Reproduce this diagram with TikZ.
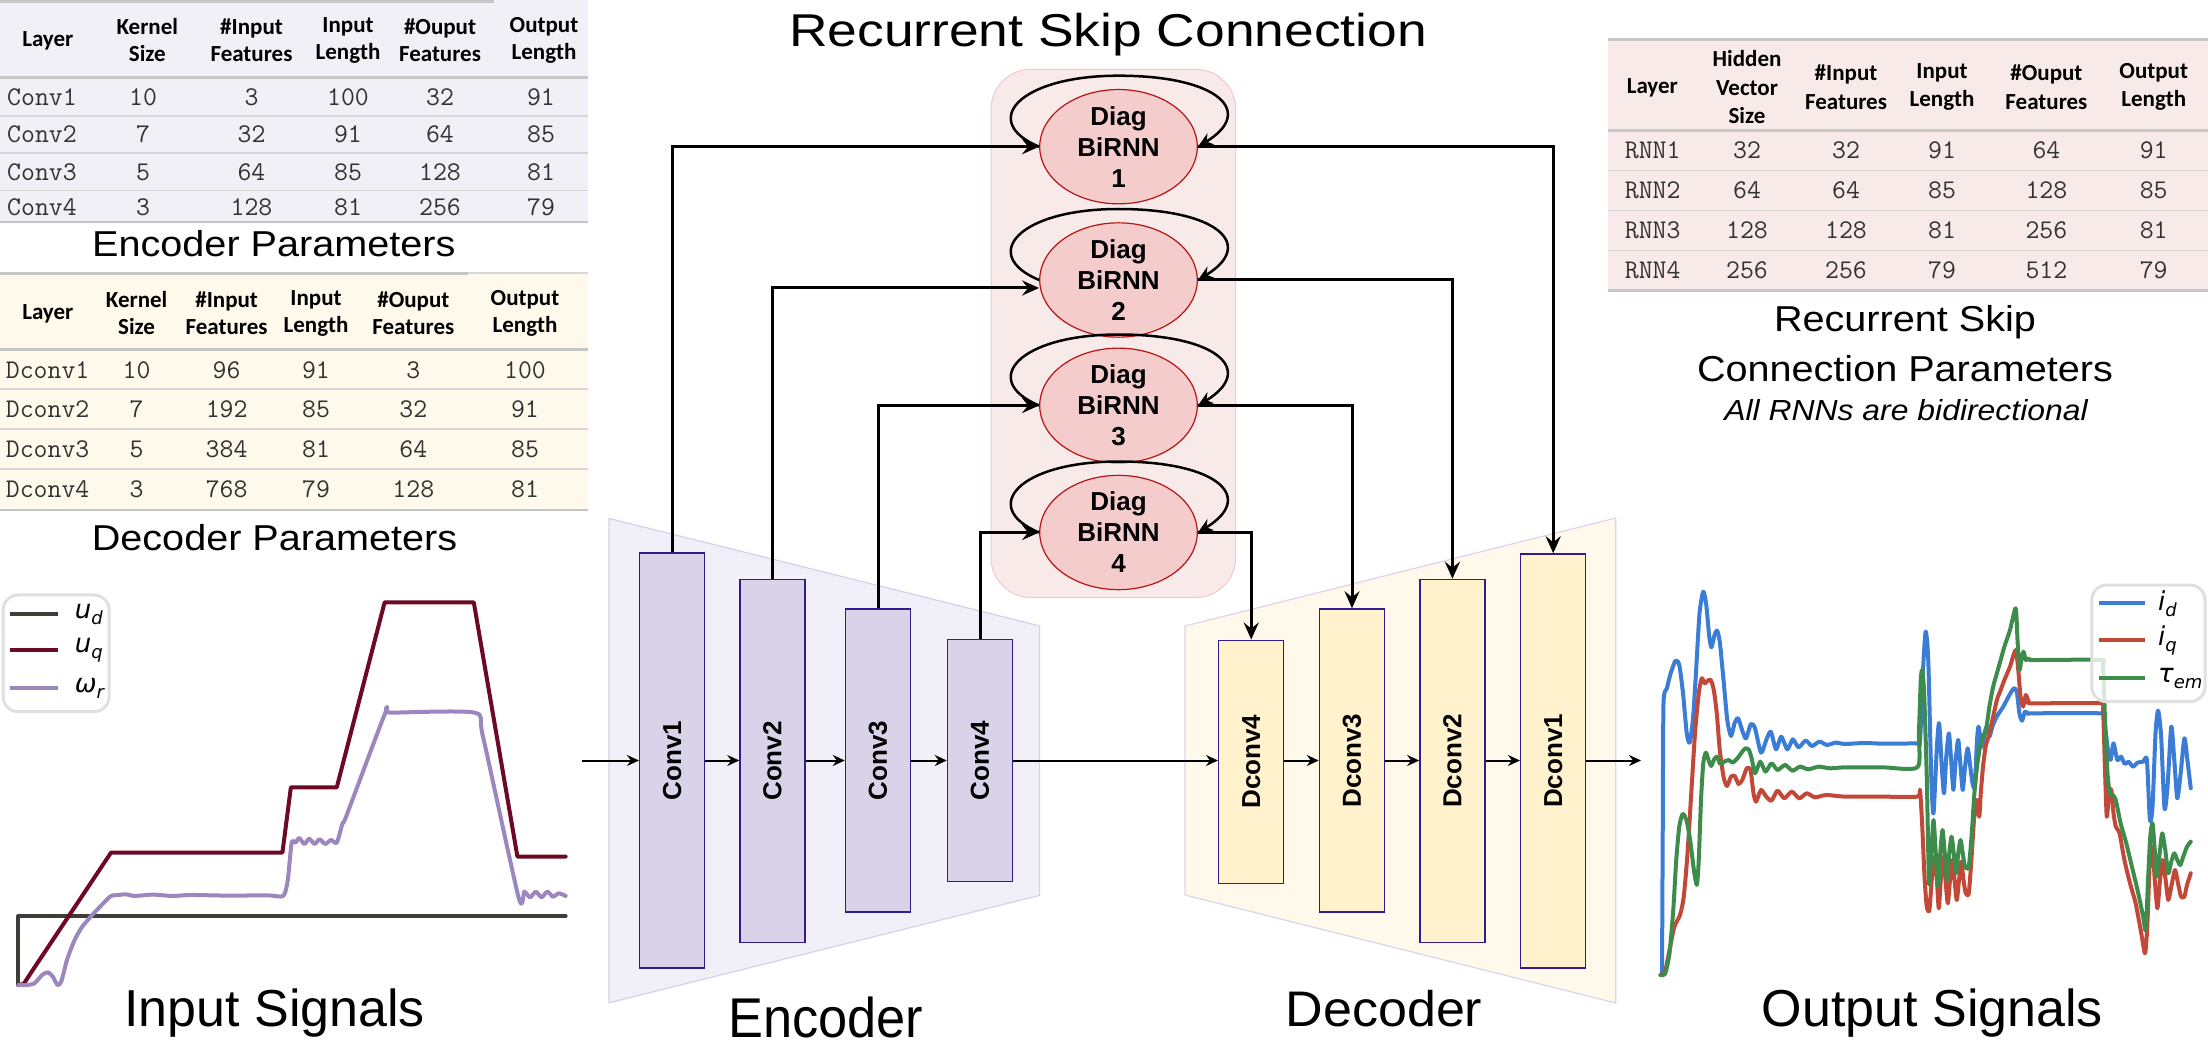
\documentclass[tikz,border=0pt]{standalone}
\usepackage{fontspec}
\usepackage{graphicx}
\setmainfont{Liberation Sans}
\newfontfamily\hdrfont{Carlito}
\newfontfamily\djv{DejaVu Sans}
\usetikzlibrary{arrows.meta,shapes.geometric,calc}
\newcommand\lgsub[1]{\raisebox{-6pt}{\fontsize{18}{18}\selectfont #1}}

\definecolor{encfill}{RGB}{241,239,248}
\definecolor{encedge}{RGB}{214,208,234}
\definecolor{convfill}{RGB}{218,210,232}
\definecolor{boxline}{RGB}{48,28,140}
\definecolor{decfill}{RGB}{255,249,236}
\definecolor{decedge}{RGB}{220,212,236}
\definecolor{dconvfill}{RGB}{255,242,204}
\definecolor{rnnbg}{RGB}{249,234,234}
\definecolor{rnnbgedge}{RGB}{244,200,200}
\definecolor{ellfill}{RGB}{244,204,204}
\definecolor{elledge}{RGB}{184,20,20}
\definecolor{tabenc}{RGB}{241,240,247}
\definecolor{tabdec}{RGB}{254,249,235}
\definecolor{tabrnn}{RGB}{249,234,234}
\definecolor{rulethick}{RGB}{198,198,198}
\definecolor{rulethin}{RGB}{214,214,214}
\definecolor{datagray}{RGB}{50,50,50}
\definecolor{udcol}{RGB}{62,62,56}
\definecolor{uqcol}{RGB}{108,10,38}
\definecolor{wrcol}{RGB}{155,135,190}
\definecolor{idcol}{RGB}{58,124,214}
\definecolor{iqcol}{RGB}{196,72,56}
\definecolor{temcol}{RGB}{62,140,76}

\tikzset{
  convbox/.style={draw=boxline, line width=1.5pt, fill=convfill, minimum width=65pt, inner sep=0pt,
    font=\fontsize{26}{30}\selectfont\bfseries},
  dconvbox/.style={convbox, fill=dconvfill},
  rnnell/.style={ellipse, draw=elledge, line width=1.2pt, fill=ellfill, minimum width=157.6pt,
    minimum height=106pt, inner sep=0pt, align=center, font=\fontsize{26}{31}\selectfont\bfseries},
  thinarrow/.style={line width=2pt, -{Stealth[length=12pt,width=11pt,inset=4pt]}},
  skipline/.style={line width=3pt, -{Stealth[length=17pt,width=15pt,inset=6pt]}},
  loopline/.style={line width=2.5pt, -{Stealth[length=15pt,width=13pt,inset=5pt]}},
  hdr/.style={align=center, inner sep=0pt, font=\hdrfont\bfseries\fontsize{23}{27}\selectfont},
  hdrr/.style={align=center, inner sep=0pt, font=\hdrfont\bfseries\fontsize{23}{28.5}\selectfont},
  datatxt/.style={inner sep=0pt, text=datagray, font=\ttfamily\fontsize{27}{29}\selectfont},
  thickrule/.style={draw=rulethick, line width=3pt},
  thinrule/.style={draw=rulethin, line width=1.5pt},
  sigline/.style={line width=4pt, line cap=round, line join=round},
  ttl/.style={anchor=base, inner sep=0pt},
}

\begin{document}
\begin{tikzpicture}[x=1pt,y=-1pt]
\useasboundingbox (0,0) rectangle (2208,1056);
\fill[white] (0,0) rectangle (2208,1056);

%================ Encoder table
\fill[tabenc] (0,0) rectangle (588,221.7);
\draw[thickrule] (0,1.5) -- (494,1.5);
\draw[thickrule] (0,78) -- (588,78);
\foreach \yy in {116,153,190.5} \draw[thinrule] (0,\yy) -- (588,\yy);
\draw[draw=rulethick, line width=2pt] (0,221.7) -- (588,221.7);
\node[hdr] (eh0) at (47.8,41) {Layer};
\node[hdr] (eh1) at (147.3,40) {Kernel\\Size};
\node[hdr] (eh2) at (251.5,40) {\#Input\\Features};
\node[hdr] (eh3) at (348,40) {Input\\Length};
\node[hdr] (eh4) at (440,40) {\#Ouput\\Features};
\node[hdr] (eh5) at (544,40) {Output\\Length};
\foreach \nm/\yy/\a/\b/\c/\d/\e [count=\r] in {Conv1/97/10/3/100/32/91, Conv2/134.5/7/32/91/64/85, Conv3/172/5/64/85/128/81, Conv4/207/3/128/81/256/79} {
  \node[datatxt, anchor=west] (er\r a) at (7,\yy) {\nm};
  \node[datatxt] (er\r b) at (143,\yy) {\a};
  \node[datatxt] (er\r c) at (251.5,\yy) {\b};
  \node[datatxt] (er\r d) at (348,\yy) {\c};
  \node[datatxt] (er\r e) at (440,\yy) {\d};
  \node[datatxt] (er\r f) at (541,\yy) {\e};
}
\node[ttl] (enctitle) at (273.8,256.7) {\fontsize{36}{40}\selectfont\scalebox{1.1}[1]{Encoder Parameters}};

%================ Decoder table
\fill[tabdec] (0,273) rectangle (588,510);
\draw[thickrule] (0,273.5) -- (468,273.5);
\draw[thinrule] (468,273) -- (588,273);
\draw[thickrule] (0,350) -- (588,350);
\foreach \yy in {389,429,469} \draw[thinrule] (0,\yy) -- (588,\yy);
\draw[draw=rulethick, line width=2pt] (0,510) -- (588,510);
\node[hdr] (dh0) at (47.8,314) {Layer};
\node[hdr] (dh1) at (136.6,313) {Kernel\\Size};
\node[hdr] (dh2) at (226.6,313) {\#Input\\Features};
\node[hdr] (dh3) at (316,313) {Input\\Length};
\node[hdr] (dh4) at (413.3,313) {\#Ouput\\Features};
\node[hdr] (dh5) at (525,313) {Output\\Length};
\foreach \nm/\yy/\a/\b/\c/\d/\e [count=\r] in {Dconv1/370/10/96/91/3/100, Dconv2/409/7/192/85/32/91, Dconv3/449/5/384/81/64/85, Dconv4/489.5/3/768/79/128/81} {
  \node[datatxt, anchor=west] (dr\r a) at (5.7,\yy) {\nm};
  \node[datatxt] (dr\r b) at (136.6,\yy) {\a};
  \node[datatxt] (dr\r c) at (226.6,\yy) {\b};
  \node[datatxt] (dr\r d) at (316,\yy) {\c};
  \node[datatxt] (dr\r e) at (413.3,\yy) {\d};
  \node[datatxt] (dr\r f) at (525,\yy) {\e};
}
\node[ttl] (dectitle) at (274.5,550) {\fontsize{36}{40}\selectfont\scalebox{1.1}[1]{Decoder Parameters}};

%================ RNN table
\fill[tabrnn] (1607.7,40) rectangle (2208,290.7);
\draw[thickrule] (1607.7,40) -- (2208,40);
\draw[thickrule] (1607.7,130.7) -- (2208,130.7);
\foreach \yy in {170.7,210.7,250.7} \draw[thinrule] (1607.7,\yy) -- (2208,\yy);
\draw[thickrule] (1607.7,290.7) -- (2208,290.7);
\node[hdrr] (rh0) at (1652.3,88) {Layer};
\node[hdrr] (rh1) at (1747,87.3) {Hidden\\Vector\\Size};
\node[hdrr] (rh2) at (1846,87) {\#Input\\Features};
\node[hdrr] (rh3) at (1942,87) {Input\\Length};
\node[hdrr] (rh4) at (2046.4,87) {\#Ouput\\Features};
\node[hdrr] (rh5) at (2153.7,87) {Output\\Length};
\foreach \nm/\yy/\a/\b/\c/\d/\e [count=\r] in {RNN1/150.7/32/32/91/64/91, RNN2/190.7/64/64/85/128/85, RNN3/230.7/128/128/81/256/81, RNN4/270.7/256/256/79/512/79} {
  \node[datatxt, anchor=west] (rr\r a) at (1624.7,\yy) {\nm};
  \node[datatxt] (rr\r b) at (1747,\yy) {\a};
  \node[datatxt] (rr\r c) at (1846,\yy) {\b};
  \node[datatxt] (rr\r d) at (1942,\yy) {\c};
  \node[datatxt] (rr\r e) at (2046.4,\yy) {\d};
  \node[datatxt] (rr\r f) at (2153.7,\yy) {\e};
}
\node[ttl] (rnntitle1) at (1905,331.7) {\fontsize{36}{40}\selectfont\scalebox{1.1}[1]{Recurrent Skip}};
\node[ttl] (rnntitle2) at (1905,381.7) {\fontsize{36}{40}\selectfont\scalebox{1.1}[1]{Connection Parameters}};
\node[ttl] (rnnnote) at (1906,420) {\fontsize{29}{32}\selectfont\itshape\scalebox{1.1}[1]{All RNNs are bidirectional}};

%================ Main title and labels
\node[ttl] (maintitle) at (1108,46.7) {\fontsize{46}{52}\selectfont\scalebox{1.16}[1]{Recurrent Skip Connection}};
\node[ttl] (inlabel) at (274.6,1026.7) {\fontsize{52}{58}\selectfont Input Signals};
\node[ttl] (enclabel) at (825.6,1037) {\fontsize{56}{62}\selectfont\scalebox{0.935}[1]{Encoder}};
\node[ttl] (declabel) at (1384,1026.6) {\fontsize{50}{56}\selectfont\scalebox{1.04}[1]{Decoder}};
\node[ttl] (outlabel) at (1932.5,1026.7) {\fontsize{52}{58}\selectfont Output Signals};

%================ Encoder / decoder trapezoids
\draw[draw=encedge, fill=encfill, line width=1.2pt] (609,518.4) -- (1039.6,625.9) -- (1039.6,895.4) -- (609,1002.8) -- cycle;
\draw[draw=decedge, fill=decfill, line width=1.2pt] (1185,626) -- (1615.7,518) -- (1615.7,1003) -- (1185,895) -- cycle;

%================ RNN container
\draw[draw=rnnbgedge, fill=rnnbg, line width=1pt, rounded corners=40pt] (991,69.3) rectangle (1235.7,597.5);

%================ Conv boxes
\node[convbox, minimum height=415pt] (c1) at (672.2,760.5) {\rotatebox{90}{Conv1}};
\node[convbox, minimum height=363pt] (c2) at (772.5,761) {\rotatebox{90}{Conv2}};
\node[convbox, minimum height=303pt] (c3) at (878,760.7) {\rotatebox{90}{Conv3}};
\node[convbox, minimum height=242pt] (c4) at (980,760.3) {\rotatebox{90}{Conv4}};
\node[dconvbox, minimum height=243pt] (d4) at (1251.2,761.8) {\rotatebox{90}{Dconv4}};
\node[dconvbox, minimum height=303pt] (d3) at (1352,760.5) {\rotatebox{90}{Dconv3}};
\node[dconvbox, minimum height=363pt] (d2) at (1452.4,761) {\rotatebox{90}{Dconv2}};
\node[dconvbox, minimum height=414pt] (d1) at (1553.2,761) {\rotatebox{90}{Dconv1}};

%================ RNN ellipses
\node[rnnell] (e1) at (1118.5,146.7) {Diag\\BiRNN\\1};
\node[rnnell] (e2) at (1118.5,280) {Diag\\BiRNN\\2};
\node[rnnell] (e3) at (1118.5,405.5) {Diag\\BiRNN\\3};
\node[rnnell] (e4) at (1118.5,532.5) {Diag\\BiRNN\\4};

\foreach \e in {e1,e2,e3,e4}
  \draw[loopline] (\e.west) .. controls +(-60,-25) and +(-100,0) .. ($(\e.center)+(0,-71)$)
                  .. controls +(100,0) and +(58,-35) .. (\e.east);

%================ Skip connections
\draw[skipline] (c1.north) |- (e1.west);
\draw[skipline] (c2.north) |- ([yshift=-8pt]e2.west);
\draw[skipline] (c3.north) |- (e3.west);
\draw[skipline] (c4.north) |- (e4.west);
\draw[skipline] (e1.east) -| (d1.north);
\draw[skipline] (e2.east) -| (d2.north);
\draw[skipline] (e3.east) -| (d3.north);
\draw[skipline] (e4.east) -| (d4.north);

%================ Main flow
\coordinate (inflow) at (581.5,760.5);
\coordinate (outflow) at (1641,760.5);
\draw[thinarrow] (inflow) -- (c1.west |- inflow);
\draw[thinarrow] (c1.east |- inflow) -- (c2.west |- inflow);
\draw[thinarrow] (c2.east |- inflow) -- (c3.west |- inflow);
\draw[thinarrow] (c3.east |- inflow) -- (c4.west |- inflow);
\draw[thinarrow] (c4.east |- inflow) -- (d4.west |- inflow);
\draw[thinarrow] (d4.east |- inflow) -- (d3.west |- inflow);
\draw[thinarrow] (d3.east |- inflow) -- (d2.west |- inflow);
\draw[thinarrow] (d2.east |- inflow) -- (d1.west |- inflow);
\draw[thinarrow] (d1.east |- inflow) -- (outflow);

%================ Input signals plot
\begin{scope}[shift={(0,560)}, xscale=0.3827, yscale=0.3333]
\draw[sigline, udcol] (48,1275) -- (48,1068) -- (1478,1068);
\draw[sigline, uqcol] (48,1275) -- (62,1272) -- (80,1240) -- (290,878) -- (738,878) -- (760,682) -- (880,682) -- (1005,127) -- (1238,127) -- (1352,890) -- (1478,890);
\draw[sigline, wrcol] plot[smooth, tension=0.4] coordinates {(48,1275) (70,1275) (90,1270) (110,1245) (125,1237) (138,1250) (150,1275) (160,1265) (175,1200) (195,1140) (215,1100) (245,1060) (270,1030) (290,1008) (310,1005) (330,1003) (350,1008) (400,1004) (450,1008) (500,1005) (600,1007) (700,1006) (740,1008) (752,960) (762,848) (772,848) (782,834) (795,852) (808,836) (822,852) (835,838) (850,852) (865,840) (880,848) (895,790) (905,768) (1008,455) (1020,458) (1240,458) (1262,530) (1355,1012) (1370,995) (1385,1012) (1400,995) (1415,1012) (1430,995) (1445,1010) (1460,1000) (1478,1008)};
\draw[draw=black!12, fill=white, line width=3pt, rounded corners=15pt] (8,105) rectangle (285,455);
\draw[sigline, line cap=butt, udcol] (25,163) -- (152,163);
\draw[sigline, line cap=butt, uqcol] (25,270) -- (152,270);
\draw[sigline, line cap=butt, wrcol] (25,385) -- (152,385);
\end{scope}
\node[anchor=west, inner sep=0pt, font=\djv\itshape\fontsize{26}{28}\selectfont] (lud) at (74.6,614.3) {u\lgsub{d}};
\node[anchor=west, inner sep=0pt, font=\djv\itshape\fontsize{26}{28}\selectfont] (luq) at (74.6,650) {u\lgsub{q}};
\node[anchor=west, inner sep=0pt, font=\djv\itshape\fontsize{26}{28}\selectfont] (lwr) at (74.6,688.3) {ω\lgsub{r}};

%================ Output signals plot
\begin{scope}[shift={(1620,560)}, xscale=0.375, yscale=0.3333]
\draw[sigline, idcol] plot[smooth, tension=0.4] coordinates {(112,1240) (114,800) (116,430) (125,385) (135,340) (148,302) (158,315) (168,400) (178,520) (186,548) (195,470) (203,330) (212,160) (222,95) (230,135) (238,230) (244,262) (252,225) (259,212) (266,245) (276,360) (286,480) (296,528) (306,488) (315,475) (326,512) (336,535) (349,492) (360,505) (376,578) (390,540) (402,515) (416,568) (430,530) (446,568) (461,538) (476,562) (495,542) (512,558) (532,545) (552,555) (575,548) (600,552) (650,549) (700,551) (790,550) (800,545) (808,330) (815,215) (822,300) (830,650) (836,760) (845,560) (851,490) (858,620) (864,700) (870,590) (877,520) (883,600) (889,690) (895,600) (902,540) (908,620) (914,690) (920,620) (927,565) (934,620) (940,670) (946,680) (952,540) (956,500) (962,540) (966,560) (972,520) (978,500) (985,530) (993,500) (1000,480) (1010,460) (1022,440) (1036,410) (1050,385) (1058,395) (1065,460) (1072,482) (1080,455) (1090,462) (1100,460) (1280,460) (1290,470) (1300,560) (1308,600) (1316,550) (1326,600) (1336,590) (1346,612) (1356,605) (1368,620) (1380,608) (1395,605) (1405,600) (1413,780) (1420,740) (1428,520) (1435,452) (1443,530) (1452,745) (1460,680) (1470,500) (1478,600) (1486,715) (1495,640) (1505,535) (1513,600) (1522,685)};
\draw[sigline, iqcol] plot[smooth, tension=0.4] coordinates {(108,1245) (120,1235) (132,1170) (145,1100) (160,1065) (170,1010) (180,880) (190,700) (200,520) (210,400) (218,355) (226,370) (234,362) (242,360) (250,390) (258,460) (266,570) (276,650) (285,678) (296,650) (306,648) (316,672) (326,660) (338,625) (348,630) (356,700) (363,725) (376,690) (390,710) (404,722) (420,692) (438,715) (458,695) (478,715) (498,700) (520,712) (550,705) (600,710) (700,710) (793,710) (800,690) (806,800) (812,950) (818,1040) (825,1050) (832,950) (838,890) (845,960) (850,1045) (856,950) (862,890) (868,960) (874,1030) (880,960) (886,900) (892,960) (898,1020) (904,960) (910,905) (916,960) (922,1000) (930,1000) (937,900) (944,780) (952,720) (958,770) (962,700) (968,620) (975,560) (985,520) (995,470) (1005,420) (1015,390) (1025,360) (1040,320) (1055,270) (1062,330) (1068,410) (1075,440) (1082,405) (1090,425) (1100,430) (1280,430) (1288,450) (1293,620) (1298,770) (1304,700) (1310,690) (1316,760) (1322,800) (1332,820) (1345,900) (1360,970) (1375,1030) (1390,1120) (1400,1180) (1406,1100) (1413,900) (1420,860) (1426,960) (1433,1045) (1440,960) (1447,900) (1455,960) (1462,1020) (1470,980) (1480,930) (1488,970) (1496,1010) (1505,1010) (1512,975) (1522,940)};
\draw[sigline, temcol] plot[smooth, tension=0.4] coordinates {(108,1245) (120,1242) (132,1180) (142,1050) (150,900) (158,800) (167,762) (177,780) (187,840) (197,930) (205,975) (210,900) (216,720) (222,610) (229,578) (236,600) (243,618) (251,598) (259,590) (267,612) (278,605) (290,600) (300,608) (313,595) (324,578) (334,565) (344,570) (352,600) (360,640) (374,605) (388,635) (404,610) (420,630) (440,615) (460,632) (480,620) (502,628) (530,620) (560,625) (600,622) (700,622) (793,622) (797,520) (802,360) (806,330) (811,400) (818,650) (824,970) (830,880) (836,780) (842,880) (848,980) (854,880) (860,810) (866,880) (872,960) (878,880) (884,830) (890,880) (896,940) (902,880) (908,840) (914,880) (920,920) (930,920) (938,820) (945,700) (952,620) (960,560) (968,530) (976,510) (985,440) (995,380) (1005,340) (1015,300) (1025,260) (1040,210) (1055,145) (1060,240) (1065,330) (1070,300) (1076,275) (1082,300) (1090,295) (1100,300) (1280,300) (1288,320) (1294,500) (1300,640) (1306,700) (1314,705) (1322,720) (1335,790) (1350,850) (1365,920) (1380,990) (1395,1070) (1402,1110) (1408,960) (1414,830) (1420,790) (1426,870) (1432,950) (1440,870) (1446,820) (1454,870) (1462,940) (1470,905) (1478,880) (1486,900) (1494,915) (1502,890) (1512,860) (1522,845)};
\draw[draw=black!12, fill=white, fill opacity=0.8, line width=3pt, rounded corners=15pt] (1258,75) rectangle (1560,425);
\draw[sigline, line cap=butt, idcol] (1278,130) -- (1400,130);
\draw[sigline, line cap=butt, iqcol] (1278,240) -- (1400,240);
\draw[sigline, line cap=butt, temcol] (1278,355) -- (1400,355);
\end{scope}
\node[anchor=west, inner sep=0pt, font=\djv\itshape\fontsize{26}{28}\selectfont] (lid) at (2158,603.3) {i\lgsub{d}};
\node[anchor=west, inner sep=0pt, font=\djv\itshape\fontsize{26}{28}\selectfont] (liq) at (2158,640) {i\lgsub{q}};
\node[anchor=west, inner sep=0pt, font=\djv\itshape\fontsize{26}{28}\selectfont] (ltem) at (2158,678.3) {τ\lgsub{em}};
\end{tikzpicture}
\end{document}
